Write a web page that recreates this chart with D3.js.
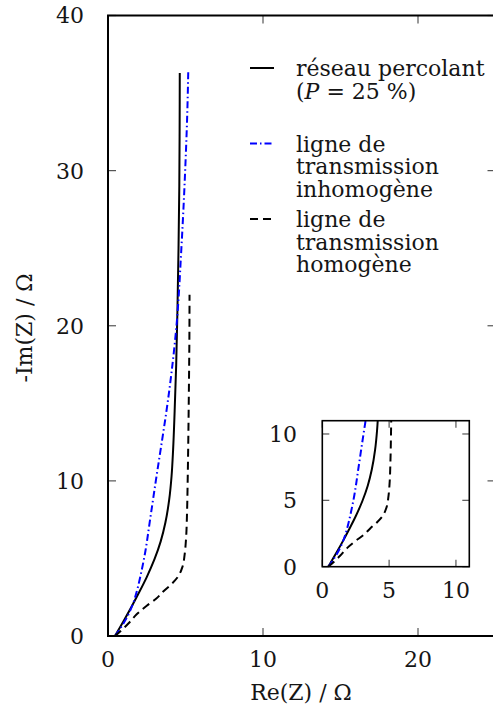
<!DOCTYPE html>
<html>
<head>
<meta charset="utf-8">
<script src="https://cdn.jsdelivr.net/npm/d3@7"></script>
<style>
  html, body { margin: 0; padding: 0; background: #fff; }
  svg { display: block; }
  svg text { font-family: "DejaVu Serif"; }
</style>
</head>
<body>
<svg id="chart" width="493" height="711"></svg>
<script>
// Nyquist curves: [Re(Z), -Im(Z)] in ohms
const reseau = [
  [0.45, 0], [1.0, 0.95], [1.5, 1.85], [2.0, 2.8], [2.5, 3.8], [3.0, 4.95],
  [3.4, 6.1], [3.7, 7.3], [3.95, 8.8], [4.1, 10.3], [4.2, 12.0], [4.3, 14.5],
  [4.4, 17.5], [4.48, 21.0], [4.55, 25.0], [4.6, 29.0], [4.62, 32.5], [4.63, 36.3]
];
const ligneInhomogene = [
  [0.45, 0], [0.9, 0.65], [1.3, 1.35], [1.6, 2.05], [1.85, 2.85], [2.1, 3.9],
  [2.4, 5.4], [2.7, 7.4], [3.1, 10.1], [3.47, 12.5], [3.8, 14.7], [4.1, 17.0],
  [4.4, 19.8], [4.74, 25.1], [4.97, 29.8], [5.12, 33.9], [5.18, 36.5]
];
const ligneHomogene = [
  [0.45, 0], [0.9, 0.4], [1.33, 0.82], [1.85, 1.4], [2.5, 1.95], [3.1, 2.4],
  [3.6, 2.9], [4.1, 3.35], [4.5, 3.8], [4.8, 4.45], [4.95, 5.3], [5.03, 6.2],
  [5.1, 8.0], [5.14, 10.0], [5.18, 12.6], [5.22, 16.0], [5.25, 19.1], [5.26, 22.0]
];

const mainXTicks = [0, 10, 20];
const mainYTicks = [0, 10, 20, 30, 40];
const insetTicks = [0, 5, 10];

const legendEntries = [
  { lines: ["réseau percolant", "(P = 25 %)"], key: "reseau" },
  { lines: ["ligne de", "transmission", "inhomogène"], key: "inhomogene" },
  { lines: ["ligne de", "transmission", "homogène"], key: "homogene" }
];

const styles = {
  reseau: { stroke: "#000", width: 2, dash: null },
  inhomogene: { stroke: "#0000ff", width: 2, dash: "7,3,1.5,3" },
  homogene: { stroke: "#000", width: 2, dash: "8,5" }
};
const seriesData = { reseau: reseau, inhomogene: ligneInhomogene, homogene: ligneHomogene };

const FS = 22;

const svg = d3.select("#chart");

function label(g, xPos, yPos, str) {
  return g.append("text")
    .attr("x", xPos).attr("y", yPos)
    .attr("font-size", FS).attr("fill", "#151515")
    .text(str);
}

// ---------- main panel ----------
const x = d3.scaleLinear().domain([0, 25]).range([108, 495.5]);
const y = d3.scaleLinear().domain([0, 40]).range([636, 15.5]);

function drawFrame(g, xs, ys, xt, yt, tickLen, frameW) {
  const [x0, x1] = xs.range();
  const [y0, y1] = ys.range();
  // inward ticks on all four sides
  const t = g.append("g").attr("stroke", "#555").attr("stroke-width", 1.2);
  xt.forEach(v => {
    t.append("line").attr("x1", xs(v)).attr("x2", xs(v)).attr("y1", y0).attr("y2", y0 - tickLen);
    t.append("line").attr("x1", xs(v)).attr("x2", xs(v)).attr("y1", y1).attr("y2", y1 + tickLen);
  });
  yt.forEach(v => {
    t.append("line").attr("x1", x0).attr("x2", x0 + tickLen).attr("y1", ys(v)).attr("y2", ys(v));
    t.append("line").attr("x1", x1).attr("x2", x1 - tickLen).attr("y1", ys(v)).attr("y2", ys(v));
  });
  g.append("rect")
    .attr("x", x0).attr("y", y1)
    .attr("width", x1 - x0).attr("height", y0 - y1)
    .attr("fill", "none").attr("stroke", "#000").attr("stroke-width", frameW);
}

const main = svg.append("g");

const lineMain = d3.line().x(d => x(d[0])).y(d => y(d[1])).curve(d3.curveMonotoneY);
["reseau", "inhomogene", "homogene"].forEach(k => {
  const s = styles[k];
  main.append("path").datum(seriesData[k])
    .attr("d", lineMain).attr("fill", "none")
    .attr("stroke", s.stroke).attr("stroke-width", s.width)
    .attr("stroke-dasharray", s.dash);
});

drawFrame(main, x, y, mainXTicks, mainYTicks, 8, 2);

mainXTicks.forEach(v => label(main, x(v), 667, v).attr("text-anchor", "middle"));
mainYTicks.forEach(v => label(main, 84, y(v), v).attr("text-anchor", "end").attr("dy", "0.36em"));

label(svg, 301, 700, "Re(Z) / Ω").attr("text-anchor", "middle");
label(svg, 0, 0, "-Im(Z) / Ω")
  .attr("transform", "translate(32,328) rotate(-90)")
  .attr("text-anchor", "middle");

// ---------- legend ----------
const legend = svg.append("g");
const legTop = [76, 151.5, 227];
const legStep = 22.5;
legendEntries.forEach((e, i) => {
  const s = styles[e.key];
  const base = legTop[i];
  legend.append("line")
    .attr("x1", 250).attr("x2", 274)
    .attr("y1", base - 8).attr("y2", base - 8)
    .attr("stroke", s.stroke).attr("stroke-width", s.width)
    .attr("stroke-dasharray", s.dash);
  e.lines.forEach((ln, j) => {
    const t = label(legend, 296, base + j * legStep, "");
    if (ln.startsWith("(P")) {
      t.append("tspan").text("(");
      t.append("tspan").attr("font-style", "italic").text("P");
      t.append("tspan").text(" = 25 %)");
    } else {
      t.text(ln);
    }
  });
});

// ---------- inset ----------
const xi = d3.scaleLinear().domain([0, 11]).range([322.3, 469.3]);
const yi = d3.scaleLinear().domain([0, 11]).range([566.7, 420.7]);
const inset = svg.append("g");
inset.append("rect")
  .attr("x", 322.3).attr("y", 420.7).attr("width", 147).attr("height", 146)
  .attr("fill", "#fff");
svg.append("defs").append("clipPath").attr("id", "insetClip")
  .append("rect").attr("x", 322.3).attr("y", 420.7).attr("width", 147).attr("height", 146);

const lineInset = d3.line().x(d => xi(d[0])).y(d => yi(d[1])).curve(d3.curveMonotoneY);
const insetCurves = inset.append("g").attr("clip-path", "url(#insetClip)");
["reseau", "inhomogene", "homogene"].forEach(k => {
  const s = styles[k];
  insetCurves.append("path").datum(seriesData[k])
    .attr("d", lineInset).attr("fill", "none")
    .attr("stroke", s.stroke).attr("stroke-width", s.width)
    .attr("stroke-dasharray", s.dash);
});

drawFrame(inset, xi, yi, insetTicks, insetTicks, 7, 1.6);

insetTicks.forEach(v => label(inset, xi(v), 598, v).attr("text-anchor", "middle"));
insetTicks.forEach(v => label(inset, 297, yi(v), v).attr("text-anchor", "end").attr("dy", "0.36em"));
</script>
</body>
</html>
